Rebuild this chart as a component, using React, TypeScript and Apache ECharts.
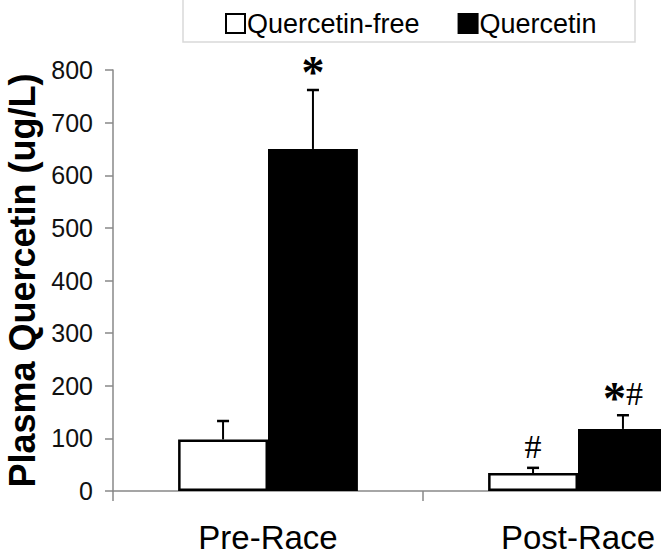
import React, { useEffect, useRef } from "react";
import * as echarts from "echarts";

const categories = ["Pre-Race", "Post-Race"];
const seriesNames = ["Quercetin-free", "Quercetin"];
const freeMeans = [98, 34];
const freeUpper = [133, 44];
const querMeans = [650, 118];
const querUpper = [762, 144];
const freeMarks = ["", "#"];
const querMarks = ["*", "*#"];
const yTicks = { min: 0, max: 800, interval: 100 };

const GAP = 0.42;

export default function App() {
  const ref = useRef<HTMLDivElement>(null);
  useEffect(() => {
    if (!ref.current) return;
    const chart = echarts.init(ref.current, null, { renderer: "svg" });

    const errData: any[] = [];
    const marks: string[] = [];
    categories.forEach((_, i) => {
      errData.push([i, freeMeans[i], freeUpper[i], 0]);
      marks.push(freeMarks[i]);
      errData.push([i, querMeans[i], querUpper[i], 1]);
      marks.push(querMarks[i]);
    });

    const renderItem = (params: any, api: any) => {
      const cat = api.value(0);
      const mean = api.value(1);
      const upper = api.value(2);
      const side = api.value(3);
      const band = api.size([1, 0])[0];
      const bw = (band * (1 - GAP)) / 2;
      const center = api.coord([cat, 0])[0];
      const x = center + (side === 0 ? -bw / 2 : bw / 2);
      const yTop = api.coord([cat, upper])[1];
      const yMean = api.coord([cat, mean])[1];
      const mk = marks[params.dataIndex] || "";
      const rich = mk
        .split("")
        .map((c) => (c === "*" ? "{s|*}" : "{h|#}"))
        .join("");
      const children: any[] = [
        {
          type: "line",
          shape: { x1: x, y1: yMean, x2: x, y2: yTop },
          style: { stroke: "#000", lineWidth: 2 },
        },
        {
          type: "line",
          shape: { x1: x - 6, y1: yTop, x2: x + 6, y2: yTop },
          style: { stroke: "#000", lineWidth: 2.5 },
        },
      ];
      if (mk) {
        children.push({
          type: "text",
          x: x,
          y: yTop - 4,
          style: {
            text: rich,
            align: "center",
            verticalAlign: "bottom",
            rich: {
              s: {
                fontFamily: "Liberation Serif",
                fontWeight: "bold",
                fontSize: 46,
                fill: "#000",
                padding: [0, 0, -10, 0],
              },
              h: {
                fontFamily: "Liberation Serif",
                fontSize: 34,
                fill: "#000",
              },
            },
          },
        });
      }
      return { type: "group", children };
    };

    chart.setOption({
      animation: false,
      textStyle: { fontFamily: "Liberation Sans" },
      graphic: [
        {
          type: "rect",
          shape: { x: 183, y: -5, width: 452, height: 47 },
          style: { fill: "none", stroke: "#d9d9d9", lineWidth: 1.5 },
          z: 0,
        },
      ],
      legend: {
        left: 225,
        top: 10,
        padding: 0,
        itemWidth: 19,
        itemHeight: 19,
        itemGap: 38,
        icon: "rect",
        textStyle: { fontSize: 27, color: "#000", fontFamily: "Liberation Sans", padding: [0, 0, 0, -3] },
        data: seriesNames,
      },
      grid: {
        left: 113,
        width: 620,
        top: 70,
        bottom: 67,
        containLabel: false,
        outerBoundsMode: "none",
      },
      xAxis: {
        type: "category",
        data: categories,
        axisLine: { lineStyle: { color: "#888", width: 1.5 } },
        axisTick: { show: true, length: 10, lineStyle: { color: "#888", width: 1.5 } },
        axisLabel: { fontSize: 33, color: "#000", margin: 30, fontFamily: "Liberation Sans" },
      },
      yAxis: {
        type: "value",
        min: yTicks.min,
        max: yTicks.max,
        interval: yTicks.interval,
        name: "Plasma Quercetin (ug/L)",
        nameLocation: "middle",
        nameRotate: 90,
        nameGap: 72,
        nameTextStyle: { fontSize: 36, fontWeight: "bold", color: "#000", fontFamily: "Liberation Sans" },
        axisLine: { show: true, lineStyle: { color: "#888", width: 1.5 } },
        axisTick: { show: true, length: 8, lineStyle: { color: "#888", width: 1.5 } },
        axisLabel: { fontSize: 25, color: "#111", margin: 20, fontFamily: "Liberation Sans" },
        splitLine: { show: false },
      },
      series: [
        {
          name: seriesNames[0],
          type: "bar",
          data: freeMeans,
          barGap: "0%",
          barCategoryGap: GAP * 100 + "%",
          itemStyle: { color: "#fff", borderColor: "#000", borderWidth: 2.5 },
        },
        {
          name: seriesNames[1],
          type: "bar",
          data: querMeans,
          barGap: "0%",
          barCategoryGap: GAP * 100 + "%",
          itemStyle: { color: "#000", borderColor: "#000", borderWidth: 2.5 },
        },
        {
          type: "custom",
          renderItem,
          data: errData,
          z: 5,
          silent: true,
        },
      ],
    });
    return () => chart.dispose();
  }, []);
  return (
    <div
      ref={ref}
      style={{ position: "fixed", left: 0, top: 0, width: 661, height: 558, background: "#fff" }}
    />
  );
}
